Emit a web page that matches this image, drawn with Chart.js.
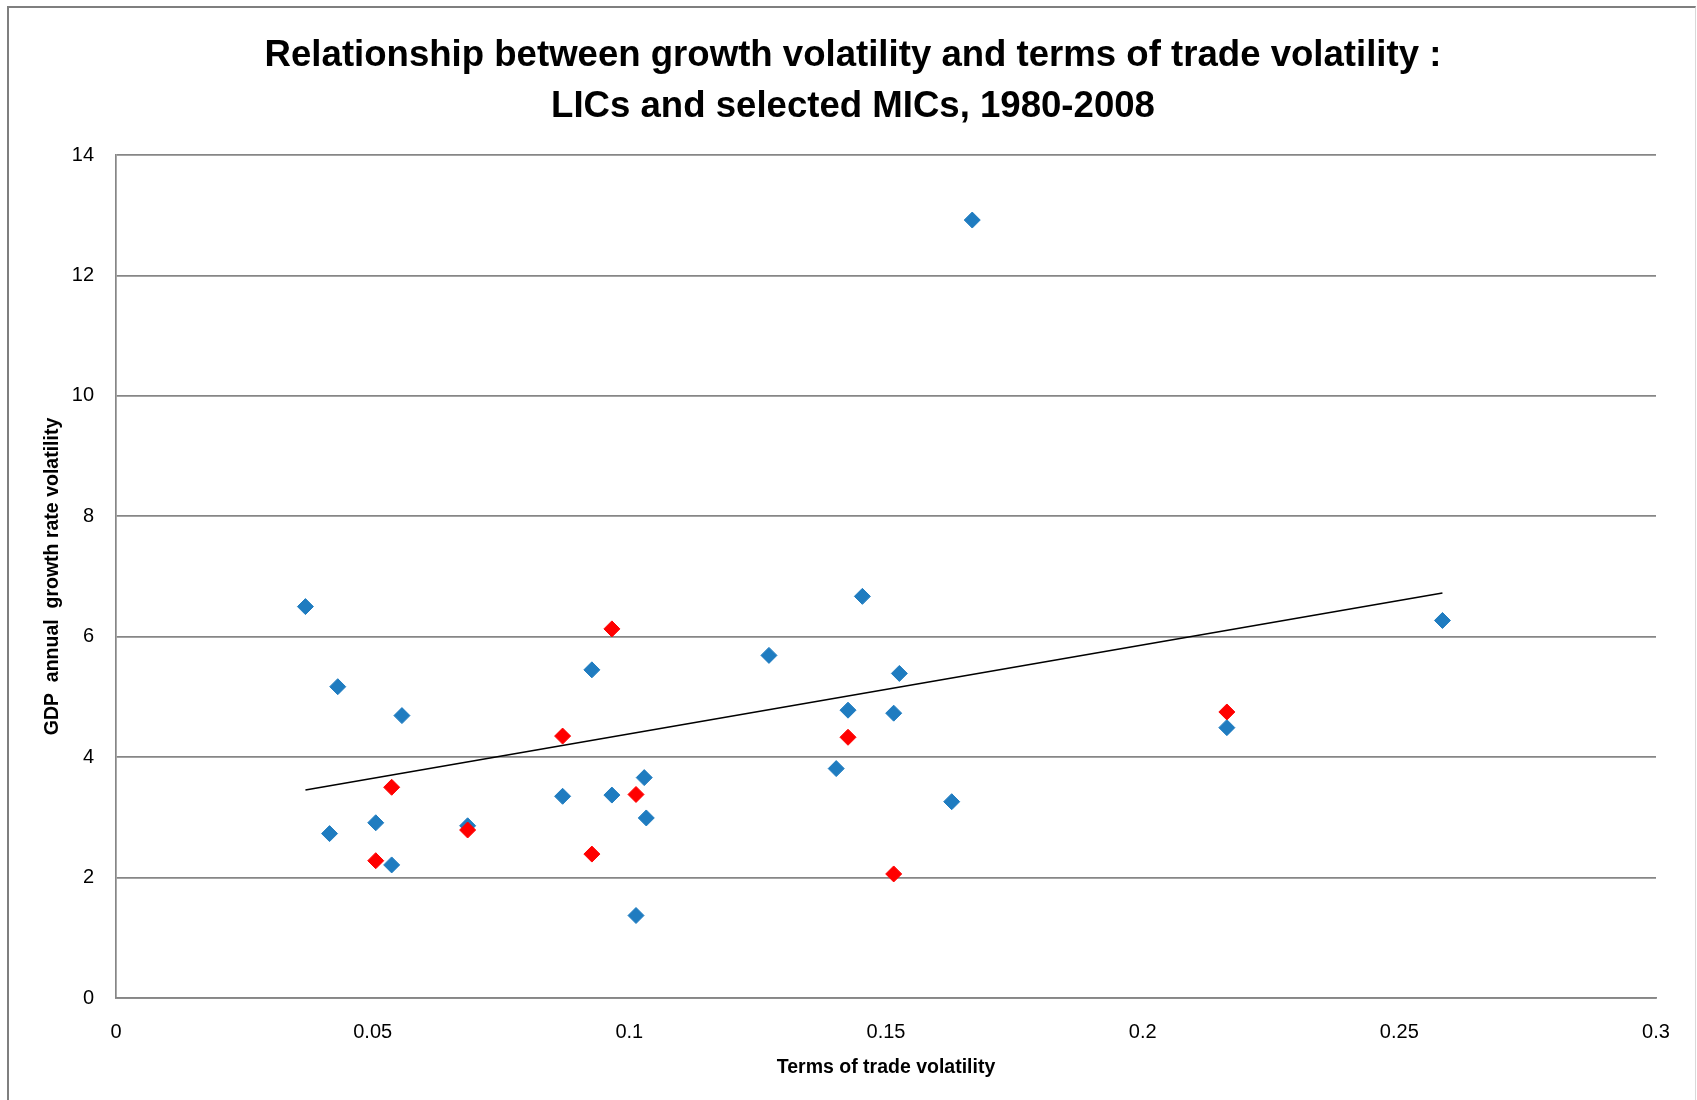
<!DOCTYPE html>
<html>
<head>
<meta charset="utf-8">
<title>Growth volatility vs terms of trade volatility</title>
<script src="https://cdn.jsdelivr.net/npm/chart.js@4.4.1/dist/chart.umd.min.js"></script>
<style>
    html, body {
        margin: 0;
        padding: 0;
        background: #ffffff;
        overflow: hidden;
    }
    #frame {
        position: absolute;
        left: 7px;
        top: 6px;
        width: 1686px;
        height: 1200px;
        border-left: 2px solid #7f7f7f;
        border-top: 2px solid #7f7f7f;
        border-right: 1px solid #d9d9d9;
    }
    #wrap {
        position: absolute;
        left: 0;
        top: 0;
        width: 1697px;
        height: 1100px;
    }
</style>
</head>
<body>
<div id="frame"></div>
<div id="wrap">
    <canvas id="volatilityChart" width="1697" height="1100"></canvas>
</div>

<script>
// Blue series (LICs) - terms of trade volatility / GDP growth volatility
const licsTot = [0.0369, 0.0432, 0.0557, 0.0416, 0.0506, 0.0537, 0.0685, 0.0870, 0.0927, 0.0966,
                 0.1029, 0.1033, 0.1013, 0.1272, 0.1403, 0.1426, 0.1454, 0.1515, 0.1526, 0.1628,
                 0.1668, 0.2164, 0.2584];
const licsGdp = [6.50, 5.17, 4.69, 2.73, 2.91, 2.21, 2.86, 3.35, 5.45, 3.37,
                 3.66, 2.99, 1.37, 5.69, 3.81, 4.78, 6.67, 4.73, 5.39, 3.26,
                 12.92, 4.49, 6.27];

// Red series (selected MICs)
const micsTot = [0.0537, 0.0506, 0.0685, 0.0870, 0.0927, 0.0966, 0.1013, 0.1426, 0.1515, 0.2164];
const micsGdp = [3.50, 2.28, 2.79, 4.35, 2.39, 6.13, 3.38, 4.33, 2.06, 4.75];

// Axis ticks
const xTicks = [0, 0.05, 0.1, 0.15, 0.2, 0.25, 0.3];
const yTicks = [0, 2, 4, 6, 8, 10, 12, 14];

const titleLines = [
    'Relationship between growth volatility and terms of trade volatility :',
    'LICs and selected MICs, 1980-2008'
];

const FONT = "'Liberation Sans', Arial, sans-serif";
const GRID = '#868686';

// Turn two arrays into {x, y} points
function toPoints(xs, ys) {
    return xs.map((x, i) => ({ x: x, y: ys[i] }));
}

// Linear trend (least squares) over a series, from its smallest to its largest x
function linearTrend(xs, ys) {
    const n = xs.length;
    const meanX = xs.reduce((a, b) => a + b, 0) / n;
    const meanY = ys.reduce((a, b) => a + b, 0) / n;
    let sxy = 0, sxx = 0;
    for (let i = 0; i < n; i++) {
        sxy += (xs[i] - meanX) * (ys[i] - meanY);
        sxx += (xs[i] - meanX) * (xs[i] - meanX);
    }
    const slope = sxy / sxx;
    const intercept = meanY - slope * meanX;
    const x0 = Math.min(...xs);
    const x1 = Math.max(...xs);
    return [
        { x: x0, y: intercept + slope * x0 },
        { x: x1, y: intercept + slope * x1 }
    ];
}

// The title is centred on the whole picture, not on the padded layout box
const centreTitle = {
    id: 'centreTitle',
    afterLayout(chart) {
        if (chart.titleBlock) {
            chart.titleBlock.left += 50;
        }
    }
};

const ctx = document.getElementById('volatilityChart').getContext('2d');

const volatilityChart = new Chart(ctx, {
    type: 'scatter',
    data: {
        datasets: [
            {
                type: 'line',
                label: 'Linear trend',
                data: linearTrend(licsTot, licsGdp),
                borderColor: '#000000',
                borderWidth: 1.6,
                pointRadius: 0,
                fill: false,
                order: 0
            },
            {
                label: 'Selected MICs',
                data: toPoints(micsTot, micsGdp),
                pointStyle: 'rectRot',
                pointRadius: 8,
                pointBorderWidth: 1,
                backgroundColor: '#ff0000',
                borderColor: '#ff0000',
                order: 1
            },
            {
                label: 'LICs',
                data: toPoints(licsTot, licsGdp),
                pointStyle: 'rectRot',
                pointRadius: 8,
                pointBorderWidth: 1,
                backgroundColor: '#1f7cc0',
                borderColor: '#1f7cc0',
                order: 2
            }
        ]
    },
    options: {
        responsive: false,
        animation: false,
        layout: {
            padding: { left: 0, right: 41, top: 0, bottom: 0 }
        },
        plugins: {
            legend: { display: false },
            tooltip: { enabled: false },
            title: {
                display: true,
                text: titleLines,
                color: '#000000',
                font: { family: FONT, size: 36.6, weight: 'bold', lineHeight: 51 / 36.6 },
                padding: { top: 30, bottom: 23 }
            }
        },
        scales: {
            x: {
                type: 'linear',
                min: 0,
                max: 0.3,
                afterBuildTicks: (scale) => {
                    scale.ticks = xTicks.map(v => ({ value: v }));
                },
                afterFit: (scale) => {
                    scale.height = 102;
                },
                grid: { display: false, drawTicks: false },
                border: { display: true, color: GRID, width: 1.7 },
                ticks: {
                    color: '#000000',
                    padding: 22,
                    maxRotation: 0,
                    font: { family: FONT, size: 20 },
                    callback: (value) => String(parseFloat(value.toFixed(2)))
                },
                title: {
                    display: true,
                    text: 'Terms of trade volatility',
                    color: '#000000',
                    font: { family: FONT, size: 19.5, weight: 'bold', lineHeight: 1.2 },
                    padding: { top: 0, bottom: 20.4 }
                }
            },
            y: {
                type: 'linear',
                min: 0,
                max: 14,
                afterBuildTicks: (scale) => {
                    scale.ticks = yTicks.map(v => ({ value: v }));
                },
                afterFit: (scale) => {
                    scale.width = 116;
                },
                grid: { color: GRID, lineWidth: 1.7, drawTicks: false },
                border: { display: true, color: GRID, width: 1.7 },
                ticks: {
                    color: '#000000',
                    padding: 22,
                    font: { family: FONT, size: 20 }
                },
                title: {
                    display: true,
                    text: 'GDP  annual  growth rate volatility',
                    color: '#000000',
                    font: { family: FONT, size: 19.5, weight: 'bold', lineHeight: 1.2 },
                    padding: { top: 41.3, bottom: 0 }
                }
            }
        }
    },
    plugins: [centreTitle]
});
</script>
</body>
</html>
